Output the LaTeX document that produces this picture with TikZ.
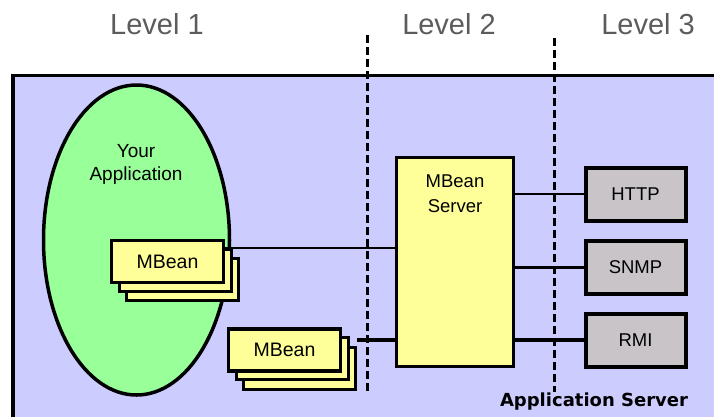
\documentclass[tikz,border=0pt]{standalone}
\usepackage{fontspec}
\setmainfont{Liberation Sans}
\newfontfamily\boldlabel{DejaVu Sans}
\usetikzlibrary{shapes.geometric}
\definecolor{areabg}{HTML}{CCCCFF}
\definecolor{appgreen}{HTML}{99FF99}
\definecolor{beanyellow}{HTML}{FFFF99}
\definecolor{protogray}{RGB}{200,196,200}
\definecolor{levelgray}{HTML}{5C5C5C}
\tikzset{
  levellabel/.style={anchor=base, text=levelgray, font=\fontsize{29}{32}\selectfont, inner sep=0pt},
  beanbox/.style={draw=black, fill=beanyellow, line width=3.5pt, minimum width=112pt, minimum height=42pt, inner sep=0pt, font=\fontsize{19.5}{22}\selectfont},
  protobox/.style={draw=black, fill=protogray, line width=4pt, minimum width=100pt, minimum height=53pt, inner sep=0pt, font=\fontsize{18.5}{21}\selectfont},
  levelsep/.style={line width=3pt, dash pattern=on 8pt off 4pt},
  wire/.style={line width=2.2pt},
  heavywire/.style={line width=3.2pt}
}
\begin{document}
\begin{tikzpicture}[x=1pt,y=-1pt]
\useasboundingbox (0,0) rectangle (714,416);
\clip (0,0) rectangle (714,416);

% level headings
\node[levellabel] (lv1) at (157,34) {Level 1};
\node[levellabel] (lv2) at (449,34) {Level 2};
\node[levellabel] (lv3) at (648,34) {Level 3};

% application server area
\filldraw[fill=areabg, draw=black, line width=3.2pt] (13,75.5) rectangle (740,440);

% the application
\node[ellipse, draw=black, fill=appgreen, line width=3.5pt, minimum width=186pt, minimum height=310pt, inner sep=0pt] (app) at (136.5,240) {};
\node[align=center, font=\fontsize{19}{23}\selectfont, inner sep=0pt] (apptext) at (136,164) {Your\\Application};

% first MBean stack (inside the application)
\node[beanbox] (mbAc) at (182.5,279.5) {};
\node[beanbox] (mbAb) at (175.5,270.5) {};
\node[beanbox] (mbA) at (167.5,261.5) {MBean};

% second MBean stack
\node[beanbox] (mbBc) at (299.5,368.5) {};
\node[beanbox] (mbBb) at (292.5,358.5) {};
\node[beanbox] (mbB) at (284.5,350) {MBean};

% MBean server
\node[draw=black, fill=beanyellow, line width=3.5pt, minimum width=117pt, minimum height=209pt, inner sep=0pt] (srv) at (455,262) {};
\node[align=center, font=\fontsize{18.5}{25}\selectfont, inner sep=0pt] (srvtext) at (455,194) {MBean\\Server};

% protocol adaptors
\node[protobox] (http) at (635.5,194) {HTTP};
\node[protobox] (snmp) at (635.5,267.5) {SNMP};
\node[protobox] (rmi) at (635.5,340) {RMI};

% connections
\coordinate (mbAout) at ([yshift=-9pt]mbA.north east);
\draw[wire] (mbAout) -- (srv.west |- mbAout);
\draw[heavywire] (mbBc.east |- rmi.west) -- (srv.west |- rmi.west);
\draw[wire] (srv.east |- http.west) -- (http.west);
\draw[wire] (srv.east |- snmp.west) -- (snmp.west);
\draw[heavywire] (srv.east |- rmi.west) -- (rmi.west);

% level separators
\coordinate (sepAtop) at (367.5,35);
\coordinate (sepAbot) at (367.5,392);
\coordinate (sepBtop) at (554,38);
\coordinate (sepBbot) at (554,392);
\draw[levelsep] (sepAtop) -- (sepAbot);
\draw[levelsep] (sepBtop) -- (sepBbot);

% area caption
\node[anchor=base, font=\boldlabel\bfseries\fontsize{18}{21}\selectfont, inner sep=0pt] (areacap) at (594,406) {Application Server};
\end{tikzpicture}
\end{document}
